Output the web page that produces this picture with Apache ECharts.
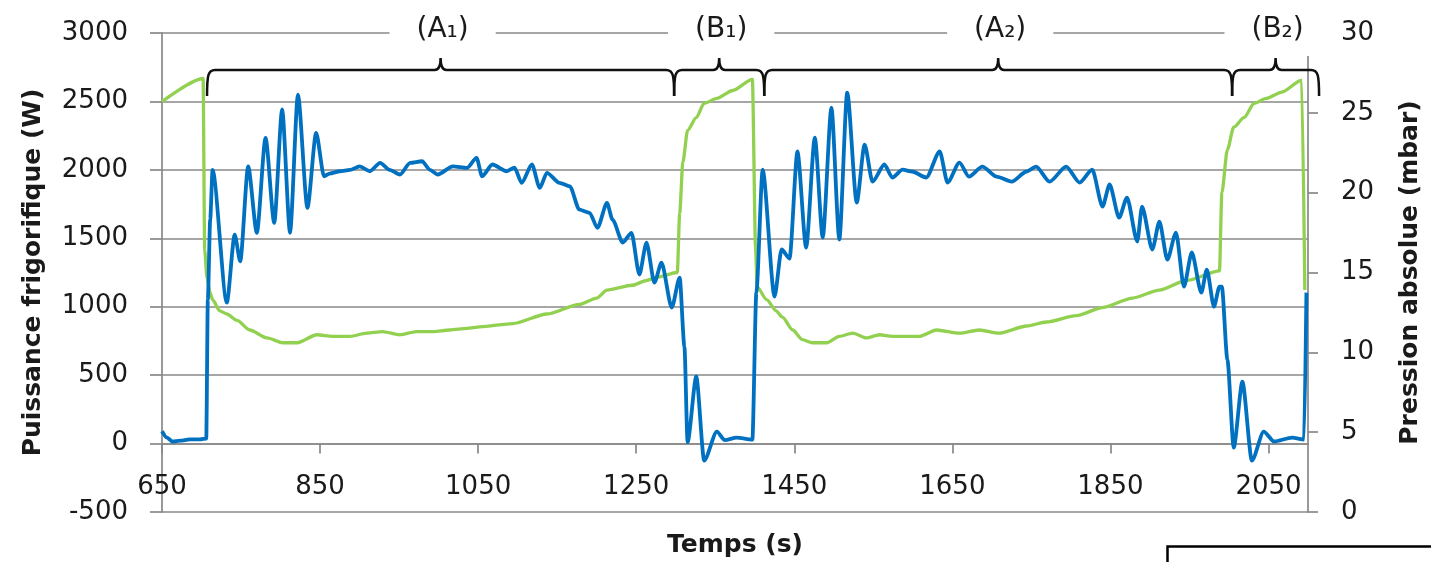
<!DOCTYPE html>
<html>
<head>
<meta charset="utf-8">
<script src="https://cdn.jsdelivr.net/npm/echarts@6/dist/echarts.min.js"></script>
<style>
  html, body { margin: 0; padding: 0; background: #fff; }
  #chart { width: 1431px; height: 562px; }
</style>
</head>
<body>
<div id="chart"></div>
<script>
// Tick labels of the time axis (s)
const timeTicks = [650, 850, 1050, 1250, 1450, 1650, 1850, 2050];

// Cooling power (W) against time (s)
const puissance = [
  [650, 90], [656, 45], [663, 15], [673, 22], [685, 30], [698, 30], [706, 37],
  [708, 1050], [711, 1640], [714, 2000], [732, 1030], [742, 1527], [749, 1332],
  [759, 2026], [770, 1540], [781, 2234], [792, 1613], [802, 2441], [812, 1540],
  [822, 2550], [834, 1722], [845, 2270], [855, 1953], [862, 1973], [875, 1990],
  [888, 2000], [900, 2026], [913, 1990], [926, 2051], [938, 2000], [951, 1966],
  [964, 2051], [979, 2063], [989, 2000], [999, 1966], [1018, 2026], [1036, 2014],
  [1048, 2087], [1055, 1953], [1068, 2039], [1086, 1990], [1096, 2017], [1105, 1905],
  [1118, 2039], [1128, 1868], [1137, 1978], [1153, 1905], [1166, 1880], [1178, 1710],
  [1191, 1686], [1201, 1576], [1213, 1759], [1220, 1637], [1233, 1469], [1244, 1540],
  [1254, 1235], [1263, 1469], [1273, 1176], [1282, 1322], [1295, 994], [1305, 1213],
  [1311, 709], [1315, 10], [1326, 490], [1336, -125], [1352, 88], [1362, 25],
  [1377, 44], [1397, 29], [1402, 1103], [1410, 2002], [1425, 1074], [1434, 1418],
  [1444, 1352], [1454, 2134], [1465, 1432], [1476, 2236], [1486, 1505], [1497, 2455],
  [1507, 1491], [1517, 2565], [1529, 1761], [1539, 2185], [1549, 1914], [1564, 2039],
  [1574, 1944], [1587, 2002], [1599, 1988], [1617, 1944], [1634, 2134], [1644, 1907],
  [1659, 2053], [1671, 1951], [1688, 2024], [1706, 1951], [1725, 1914], [1744, 1988],
  [1756, 2024], [1773, 1914], [1794, 2024], [1811, 1907], [1827, 2002], [1840, 1732],
  [1849, 1893], [1861, 1651], [1871, 1797], [1884, 1476], [1890, 1732], [1903, 1418],
  [1912, 1622], [1922, 1344], [1933, 1542], [1943, 1147], [1953, 1396], [1965, 1103],
  [1972, 1271], [1981, 1001], [1988, 1147], [1991, 1147], [1998, 614], [2006, -30],
  [2017, 453], [2029, -125], [2044, 88], [2057, 15], [2080, 44], [2095, 29], [2098, 1103]
];

// Absolute pressure (mbar) against time (s)
const pression = [
  [650, 25.7], [702, 27.15], [704, 16.4], [707, 14.65], [711, 13.7], [714, 13.3],
  [723, 12.6], [732, 12.4], [745, 12.0], [761, 11.4], [783, 10.9], [803, 10.6],
  [821, 10.6], [846, 11.1], [866, 11.0], [888, 11.0], [909, 11.2], [929, 11.3],
  [951, 11.1], [972, 11.3], [993, 11.3], [1014, 11.4], [1036, 11.5], [1052, 11.6],
  [1094, 11.8], [1137, 12.4], [1178, 13.0], [1200, 13.4], [1213, 13.9], [1245, 14.2],
  [1263, 14.5], [1276, 14.7], [1302, 15.0], [1305, 18.7], [1309, 21.9], [1315, 23.9],
  [1326, 24.7], [1336, 25.6], [1352, 25.9], [1372, 26.4], [1397, 27.1], [1401, 16.6],
  [1403, 14.1], [1415, 13.3], [1427, 12.6], [1435, 12.2], [1448, 11.4], [1460, 10.8],
  [1473, 10.6], [1491, 10.6], [1507, 11.0], [1524, 11.2], [1541, 10.9], [1558, 11.1],
  [1574, 11.0], [1592, 11.0], [1608, 11.0], [1630, 11.4], [1659, 11.2], [1684, 11.4],
  [1709, 11.2], [1744, 11.65], [1769, 11.9], [1807, 12.3], [1840, 12.8], [1878, 13.4],
  [1912, 13.9], [1946, 14.5], [1988, 15.1], [1991, 20.0], [1998, 22.7], [2006, 24.1],
  [2019, 24.7], [2032, 25.6], [2047, 25.9], [2067, 26.3], [2092, 27.05], [2096, 13.9]
];

// Operating phases: label and time span (s)
const phaseLabels = ['(A\u2081)', '(B\u2081)', '(A\u2082)', '(B\u2082)'];
const phaseStart = [707, 1298, 1412, 2004];
const phaseEnd = [1298, 1412, 2004, 2114];

const FONT = 'DejaVu Sans';
const GRID_GREY = '#888888';
const TEXT = '#1a1a1a';
const POWER_MAX = 3000;

const axisLineStyle = { color: GRID_GREY, width: 1.7 };
const plainNumber = (v) => String(v);

// Curly brace above a phase, with its label on a white box
function renderPhase(params, api) {
  const start = api.value(0);
  const end = api.value(1);
  const p0 = api.coord([start, POWER_MAX]);
  const p1 = api.coord([end, POWER_MAX]);
  const x0 = p0[0], x1 = p1[0], yTop = p0[1];
  const xc = (x0 + x1) / 2;
  const yl = yTop + 37, ye = yl + 26, yt = yl - 12;
  const d = 'M' + x0 + ',' + ye +
    ' C' + x0 + ',' + (yl + 5) + ' ' + (x0 + 1) + ',' + yl + ' ' + (x0 + 8) + ',' + yl +
    ' L' + (xc - 6) + ',' + yl +
    ' Q' + xc + ',' + yl + ' ' + xc + ',' + yt +
    ' Q' + xc + ',' + yl + ' ' + (xc + 6) + ',' + yl +
    ' L' + (x1 - 8) + ',' + yl +
    ' C' + (x1 - 1) + ',' + yl + ' ' + x1 + ',' + (yl + 5) + ' ' + x1 + ',' + ye;
  return {
    type: 'group',
    children: [
      {
        type: 'text',
        x: xc + 2,
        y: yTop - 3,
        style: {
          text: phaseLabels[params.dataIndex],
          fontFamily: FONT,
          fontSize: 28,
          fill: TEXT,
          align: 'center',
          verticalAlign: 'middle',
          backgroundColor: '#fff',
          padding: [12, 27]
        }
      },
      {
        type: 'path',
        shape: { pathData: d },
        style: { fill: 'none', stroke: '#111', lineWidth: 2.5 }
      }
    ]
  };
}

const chart = echarts.init(document.getElementById('chart'), null, { renderer: 'canvas' });

chart.setOption({
  animation: false,
  backgroundColor: '#fff',
  textStyle: { fontFamily: FONT },
  grid: { left: 162, right: 123, top: 33, bottom: 50, containLabel: false, outerBoundsMode: 'none' },
  xAxis: {
    type: 'value',
    min: 650,
    max: 2100,
    name: 'Temps (s)',
    nameLocation: 'middle',
    nameGap: 21,
    nameTextStyle: { fontFamily: FONT, fontSize: 25, fontWeight: 'bold', color: TEXT },
    axisLine: { show: true, onZero: true, onZeroAxisIndex: 0, lineStyle: axisLineStyle },
    axisTick: { show: true, customValues: timeTicks, length: 10, lineStyle: axisLineStyle },
    axisLabel: { customValues: timeTicks, formatter: plainNumber, margin: -38, fontFamily: FONT, fontSize: 26, color: TEXT },
    splitLine: { show: false }
  },
  yAxis: [
    {
      type: 'value',
      position: 'left',
      min: -500,
      max: POWER_MAX,
      interval: 500,
      name: 'Puissance frigorifique (W)',
      nameLocation: 'middle',
      nameGap: 116,
      nameTextStyle: { fontFamily: FONT, fontSize: 25, fontWeight: 'bold', color: TEXT },
      axisLine: { show: true, lineStyle: axisLineStyle },
      axisTick: { show: true, length: 12, lineStyle: axisLineStyle },
      axisLabel: { formatter: plainNumber, margin: 34, fontFamily: FONT, fontSize: 26, color: TEXT },
      splitLine: { show: true, lineStyle: { color: GRID_GREY, width: 1.7 } }
    },
    {
      type: 'value',
      position: 'right',
      min: 0,
      max: 30,
      interval: 5,
      name: 'Pression absolue (mbar)',
      nameLocation: 'middle',
      nameGap: 90,
      nameTextStyle: { fontFamily: FONT, fontSize: 25, fontWeight: 'bold', color: TEXT },
      axisLine: { show: true, onZero: false, lineStyle: axisLineStyle },
      axisTick: { show: true, length: 10, lineStyle: axisLineStyle },
      axisLabel: { formatter: plainNumber, margin: 33, fontFamily: FONT, fontSize: 26, color: TEXT },
      splitLine: { show: false }
    }
  ],
  series: [
    {
      name: 'Pression absolue',
      type: 'line',
      yAxisIndex: 1,
      data: pression,
      showSymbol: false,
      smooth: 0.25,
      smoothMonotone: 'x',
      lineStyle: { color: '#92D050', width: 3.3 },
      itemStyle: { color: '#92D050' },
      z: 2
    },
    {
      name: 'Puissance frigorifique',
      type: 'line',
      yAxisIndex: 0,
      data: puissance,
      showSymbol: false,
      smooth: 0.25,
      smoothMonotone: 'x',
      lineStyle: { color: '#0070C0', width: 3.8 },
      itemStyle: { color: '#0070C0' },
      z: 3
    },
    {
      name: 'Phases',
      type: 'custom',
      yAxisIndex: 0,
      silent: true,
      clip: false,
      data: phaseStart.map((s, i) => [s, phaseEnd[i]]),
      encode: { x: [0, 1] },
      renderItem: renderPhase,
      z: 5
    }
  ],
  graphic: [
    {
      type: 'rect',
      left: 1165,
      top: 544,
      shape: { x: 0, y: 0, width: 300, height: 40 },
      style: { fill: 'none', stroke: '#000', lineWidth: 2.5 },
      silent: true
    }
  ]
});
</script>
</body>
</html>
